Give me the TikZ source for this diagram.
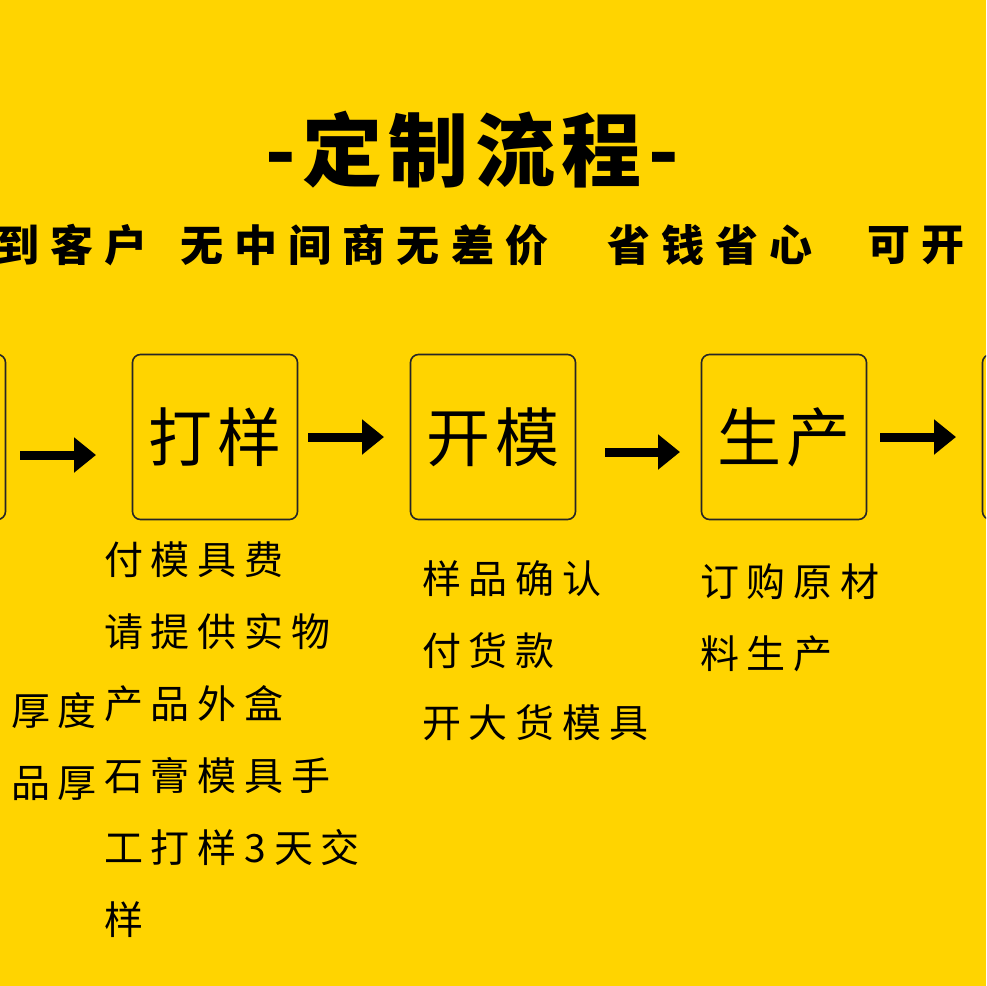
\documentclass[tikz,border=0pt]{standalone}
\usepackage{fontspec}
\setmainfont{Noto Sans CJK SC}
\usetikzlibrary{arrows.meta}
\definecolor{bg}{HTML}{FFD400}
\tikzset{
  box/.style={draw=black!85,line width=1.6pt,rounded corners=8pt,minimum width=165pt,minimum height=165pt,inner sep=0pt,font=\fontsize{64}{66}\selectfont\addfontfeature{LetterSpace=8}},
  arr/.style={line width=9pt,-{Triangle[length=22pt,width=34pt]}},
  lst/.style={anchor=north west,align=left,inner sep=0pt,font=\fontsize{39}{72}\selectfont\addfontfeature{LetterSpace=20}},
  sub/.style={anchor=west,inner sep=0pt,font=\fontsize{43}{45}\selectfont\bfseries\addfontfeature{LetterSpace=26}}
}
\begin{document}
\begin{tikzpicture}[x=1pt,y=-1pt]
\useasboundingbox (0,0) rectangle (986,986);
\clip (0,0) rectangle (986,986);
\fill[bg] (0,0) rectangle (986,986);
\node[font=\fontsize{80}{82}\selectfont\bfseries\addfontfeature{LetterSpace=8}] (title) at (472,150) {-定制流程-};
\node[sub] (s1) at (-4,245) {到客户};
\node[sub] (s2) at (180,245) {无中间商无差价};
\node[sub] (s3) at (607,245) {省钱省心};
\node[sub] (s4) at (867,245) {可开};
\node[box] (b0) at (-77,437) {};
\node[box] (b1) at (215,437) {打样};
\node[box] (b2) at (493,437) {开模};
\node[box] (b3) at (784,437) {生产};
\node[box] (b4) at (1065,437) {};
\coordinate (a0s) at (20,455); \coordinate (a0e) at (96,455);
\coordinate (a1s) at (308,437); \coordinate (a1e) at (384,437);
\coordinate (a2s) at (605,452); \coordinate (a2e) at (680,452);
\coordinate (a3s) at (880,437); \coordinate (a3e) at (956,437);
\draw[arr] (a0s) -- (a0e);
\draw[arr] (a1s) -- (a1e);
\draw[arr] (a2s) -- (a2e);
\draw[arr] (a3s) -- (a3e);
\node[lst] (l1) at (104,542) {付模具费\\请提供实物\\产品外盒\\石膏模具手\\工打样3天交\\样};
\node[lst] (l2) at (422,560) {样品确认\\付货款\\开大货模具};
\node[lst] (l3) at (700,564) {订购原材\\料生产};
\node[lst,anchor=north east,align=right] (l0) at (97,692) {厚度\\品厚};
\end{tikzpicture}
\end{document}
